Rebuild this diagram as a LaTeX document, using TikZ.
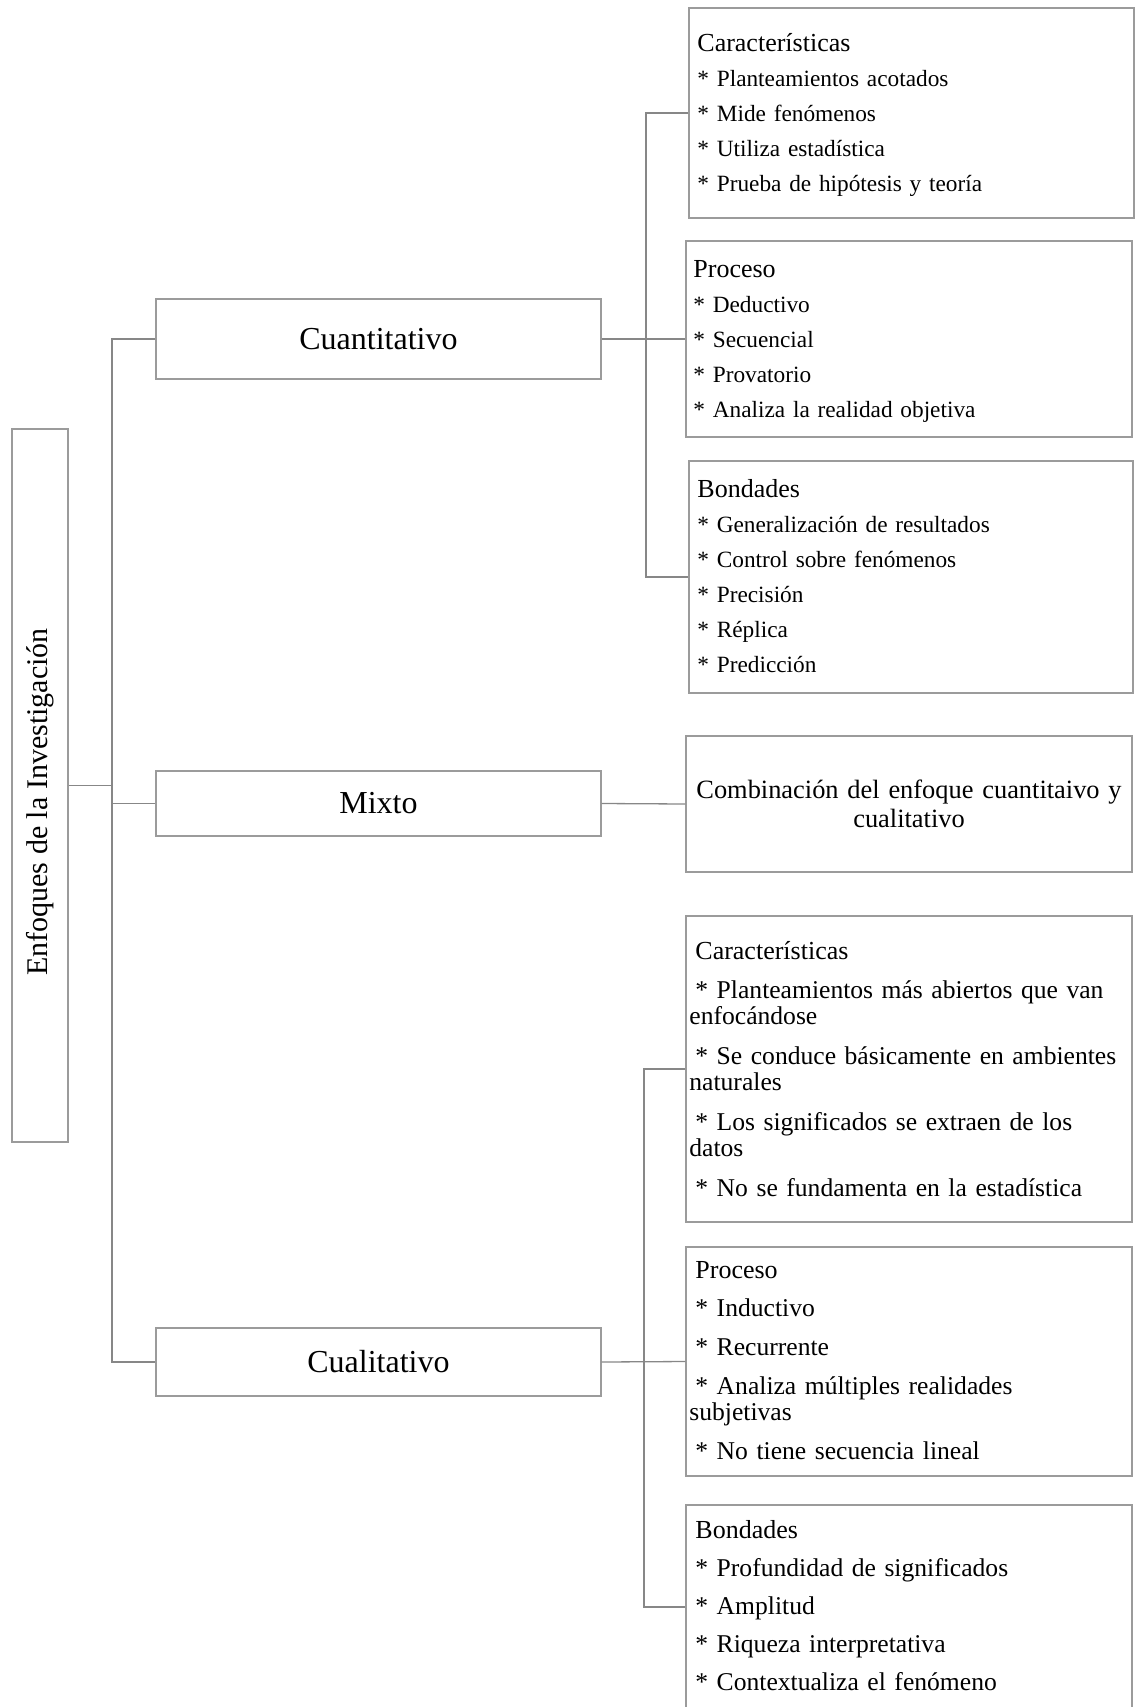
\documentclass[tikz,border=0pt]{standalone}
\usepackage{fontspec}
\setmainfont{Liberation Serif}
\usepackage{graphicx}
\usepackage{tikz}
\usetikzlibrary{positioning}
\definecolor{grisCaja}{RGB}{155,155,155}
\definecolor{grisLinea}{RGB}{135,135,135}
\newcommand{\letraGrande}{\fontsize{16}{19}\selectfont}
\newcommand{\sangria}{\hspace*{3pt}}
\newcommand{\titulo}[1]{{\fontsize{13}{13}\selectfont #1}}
\tikzset{
	caja/.style={draw=grisCaja, line width=.65pt, inner sep=0pt},
	conector/.style={draw=grisLinea, line width=.65pt},
	lista/.style={anchor=base west, inner sep=0pt, text width=218pt, align=left, font=\fontsize{11.65}{17.5}\selectfont},
	listab/.style={lista, font=\fontsize{12.8}{13}\selectfont},
}

\begin{document}
\begin{tikzpicture}[x=.5pt, y=-.5pt]
		\clip (0,0) rectangle (1135,1707);
		% columna izquierda
		\node[caja, minimum width=28pt, minimum height=356.5pt] (enfoque) at (40,785.5) {};
		\node[rotate=90, inner sep=0pt, font=\fontsize{15}{18}\selectfont] (enfoquet) at (40,802) {Enfoques de la Investigación};
		\node[caja, minimum width=222.5pt, minimum height=40pt, font=\letraGrande] (cuanti) at (378.5,339) {Cuantitativo};
		\node[caja, minimum width=222.5pt, minimum height=32.5pt, font=\letraGrande] (mixto) at (378.5,803.5) {Mixto};
		\node[caja, minimum width=222.5pt, minimum height=34pt, font=\letraGrande] (cuali) at (378.5,1362) {Cualitativo};
		% cuantitativo
		\node[caja, minimum width=222.5pt, minimum height=105pt] (carac1) at (911.5,113) {};
		\node[caja, minimum width=223pt, minimum height=98pt] (proc1) at (909,339) {};
		\node[caja, minimum width=222pt, minimum height=116pt] (bond1) at (911,577) {};
		\node[lista] (carac1t) at (697,52) {\titulo{Características}\\{*} Planteamientos acotados\\{*} Mide fenómenos\\{*} Utiliza estadística\\{*} Prueba de hipótesis y teoría};
		\node[lista] (proc1t) at (693,277) {\titulo{Proceso}\\{*} Deductivo\\{*} Secuencial\\{*} Provatorio\\{*} Analiza la realidad objetiva};
		\node[lista] (bond1t) at (697,497) {\titulo{Bondades}\\{*} Generalización de resultados\\{*} Control sobre fenómenos\\{*} Precisión\\{*} Réplica\\{*} Predicción};
		% mixto
		\node[caja, minimum width=223pt, minimum height=68pt, text width=216pt, align=center, font=\fontsize{13.2}{14.5}\selectfont] (comb) at (909,804) {Combinación del enfoque cuantitaivo y\\cualitativo};
		% cualitativo
		\node[caja, minimum width=223pt, minimum height=153pt] (carac2) at (909,1069) {};
		\node[caja, minimum width=223pt, minimum height=114.5pt] (proc2) at (909,1361.5) {};
		\node[caja, minimum width=223pt, minimum height=102pt] (bond2) at (909,1607) {};
		\node[listab] (carac2t) at (689,959) {\sangria\titulo{Características}\\[6.5pt]
			\sangria* Planteamientos más abiertos que van\\enfocándose\\[7pt]
			\sangria* Se conduce básicamente en ambientes\\naturales\\[7pt]
			\sangria* Los significados se extraen de los\\datos\\[7pt]
			\sangria* No se fundamenta en la estadística};
		\node[listab] (proc2t) at (689,1278) {\sangria\titulo{Proceso}\\[6pt]
			\sangria* Inductivo\\[6.5pt]
			\sangria* Recurrente\\[6.5pt]
			\sangria* Analiza múltiples realidades\\subjetivas\\[6.5pt]
			\sangria* No tiene secuencia lineal};
		\node[listab] (bond2t) at (689,1538) {\sangria\titulo{Bondades}\\[6pt]
			\sangria* Profundidad de significados\\[6pt]
			\sangria* Amplitud\\[6pt]
			\sangria* Riqueza interpretativa\\[6pt]
			\sangria* Contextualiza el fenómeno};
		% conectores
		\coordinate (troncoI) at (112,0);
		\coordinate (troncoA) at (646,0);
		\coordinate (troncoB) at (644,0);
		\draw[conector] (cuanti.west) -- (cuanti.west -| troncoI) |- (cuali.west);
		\draw[conector] (enfoque.east) -- (enfoque.east -| troncoI);
		\draw[conector] (troncoI |- mixto.west) -- (mixto.west);
		\draw[conector] (carac1.west) -- (carac1.west -| troncoA) |- (bond1.west);
		\draw[conector] (cuanti.east) -- (proc1.west);
		\draw[conector] (mixto.east) -- (comb.west);
		\draw[conector] (carac2.west) -- (carac2.west -| troncoB) |- (bond2.west);
		\draw[conector] (cuali.east) -- (proc2.west);
\end{tikzpicture}
\end{document}
